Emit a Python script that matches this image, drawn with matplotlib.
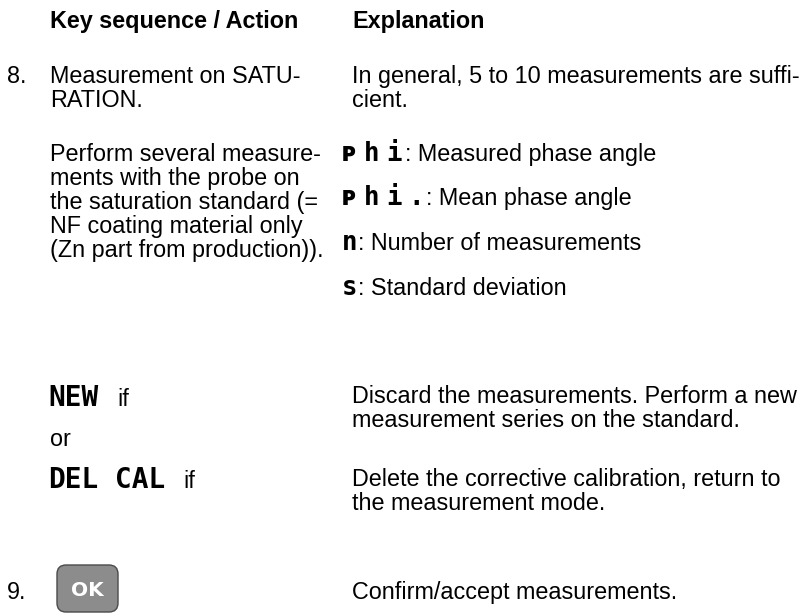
import matplotlib.pyplot as plt
from matplotlib.patches import FancyBboxPatch

# Page content
header_labels = ['Key sequence / Action', 'Explanation']
step_numbers = ['8.', '9.']
step8_action = ['Measurement on SATU-', 'RATION.']
step8_explanation = ['In general, 5 to 10 measurements are suffi-', 'cient.']
perform_lines = ['Perform several measure-',
                 'ments with the probe on',
                 'the saturation standard (=',
                 'NF coating material only',
                 '(Zn part from production)).']
display_symbols = ['\u1d18hi', '\u1d18hi.', 'n', 's']
symbol_meanings = ['Measured phase angle', 'Mean phase angle',
                   'Number of measurements', 'Standard deviation']
option_keys = [['NEW'], ['DEL', 'CAL']]
option_joiner = 'or'
option_suffix = 'if'
option_explanations = [['Discard the measurements. Perform a new',
                        'measurement series on the standard.'],
                       ['Delete the corrective calibration, return to',
                        'the measurement mode.']]
ok_key = 'OK'
step9_explanation = 'Confirm/accept measurements.'

body = dict(family=['Liberation Sans', 'DejaVu Sans'], fontsize=16.8, color='black', va='baseline')
lcd = dict(family=['DejaVu Sans Mono', 'DejaVu Sans'], fontweight='bold', color='black', va='baseline')

fig = plt.figure(figsize=(8.08, 6.14), dpi=100)
ax = fig.add_axes([0, 0, 1, 1])
ax.set_xlim(0, 808)
ax.set_ylim(614, 0)
ax.axis('off')

left_x = 50
right_x = 352
leading = 24

# Header
ax.text(left_x, 28, header_labels[0], fontweight='bold', **body)
ax.text(right_x, 28, header_labels[1], fontweight='bold', **body)

# Step 8
ax.text(7, 83, step_numbers[0], **body)
for i, line in enumerate(step8_action):
    ax.text(left_x, 83 + i * leading, line, **body)
for i, line in enumerate(step8_explanation):
    ax.text(right_x, 83 + i * leading, line, **body)

for i, line in enumerate(perform_lines):
    ax.text(left_x, 161 + i * leading, line, **body)

# Display symbols and their meaning
sym_y = [161, 205, 250, 295]
colon_x = [405, 426, 358, 358]
for sym, meaning, y, cx in zip(display_symbols, symbol_meanings, sym_y, colon_x):
    for j, ch in enumerate(sym):
        ax.text(342 + j * 22, y, ch, fontsize=18.5, **lcd)
    ax.text(cx, y, ': ' + meaning, **body)

# NEW / DEL CAL options
ax.text(48, 406, option_keys[0][0], fontsize=20, **lcd)
ax.text(117, 406, option_suffix, **body)
ax.text(left_x, 446, option_joiner, **body)
ax.text(48, 488, option_keys[1][0], fontsize=20, **lcd)
ax.text(115, 488, option_keys[1][1], fontsize=20, **lcd)
ax.text(183, 488, option_suffix, **body)

for block, y0 in zip(option_explanations, [403, 486]):
    for i, line in enumerate(block):
        ax.text(right_x, y0 + i * leading, line, **body)

# Step 9
ax.text(7, 599, step_numbers[1], **body)
button = FancyBboxPatch((57, 565), 61, 47,
                        boxstyle='round,pad=0,rounding_size=9',
                        facecolor='#8c8c8c', edgecolor='#4a4a4a', linewidth=1.0)
ax.add_patch(button)
ax.text(87.5, 591, ok_key, family='DejaVu Sans', fontweight='bold', fontsize=14.5,
        color='white', ha='center', va='center')
ax.text(right_x, 599, step9_explanation, **body)

fig.savefig('out.png', dpi=100, facecolor='white')
